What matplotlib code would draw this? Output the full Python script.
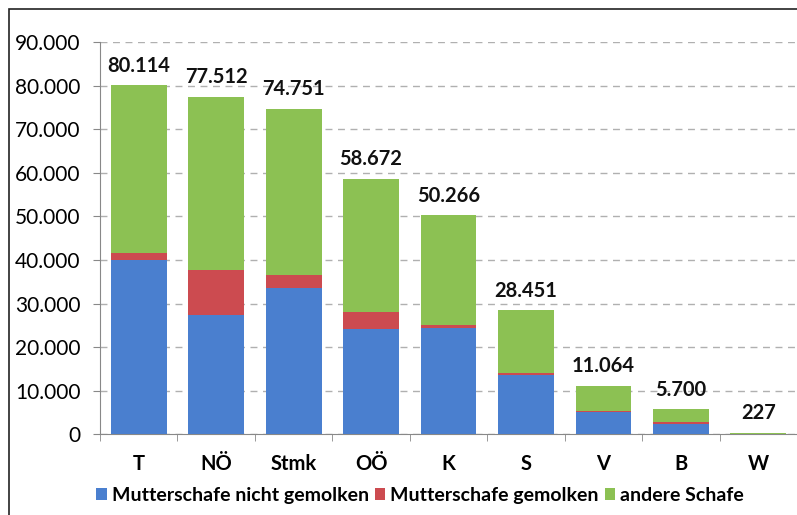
import matplotlib.pyplot as plt
from matplotlib.patches import Rectangle
from matplotlib.ticker import FuncFormatter
import numpy as np

plt.rcParams['font.family'] = ['Lato', 'DejaVu Sans']

regions = ['T', 'NÖ', 'Stmk', 'OÖ', 'K', 'S', 'V', 'B', 'W']
totals = [80114, 77512, 74751, 58672, 50266, 28451, 11064, 5700, 227]
nicht_gemolken = [39900, 27300, 33600, 24100, 24300, 13500, 5100, 2300, 110]
gemolken = [1700, 10500, 2900, 3900, 700, 500, 300, 500, 17]
andere = [t - a - b for t, a, b in zip(totals, nicht_gemolken, gemolken)]

labels = ['Mutterschafe nicht gemolken', 'Mutterschafe gemolken', 'andere Schafe']
colors = ['#4a7fcf', '#cc4b50', '#8cc153']

def dotfmt(v, pos=None):
    return '{:,.0f}'.format(v).replace(',', '.')

fig = plt.figure(figsize=(7.97, 5.15), dpi=100)
ax = fig.add_axes([0.1255, 0.157, 0.8745, 0.761])

x = np.arange(len(regions))
w = 0.72
b1 = ax.bar(x, nicht_gemolken, w, color=colors[0], label=labels[0], zorder=3)
b2 = ax.bar(x, gemolken, w, bottom=nicht_gemolken, color=colors[1], label=labels[1], zorder=3)
bottom2 = [a + b for a, b in zip(nicht_gemolken, gemolken)]
b3 = ax.bar(x, andere, w, bottom=bottom2, color=colors[2], label=labels[2], zorder=3)

for xi, t in zip(x, totals):
    ax.annotate(dotfmt(t), (xi, t), xytext=(0, 7), textcoords='offset points',
                ha='center', va='bottom', fontsize=14.5, fontweight='bold', color='#111111')

ax.set_xlim(-0.5, len(regions) - 0.5)
ax.set_ylim(0, 90000)
ax.set_yticks(np.arange(0, 90001, 10000))
ax.yaxis.set_major_formatter(FuncFormatter(dotfmt))
ax.yaxis.grid(True, linestyle=(0, (5, 4)), color='#b0b0b0', linewidth=1, zorder=0)

ax.set_xticks(x)
ax.set_xticklabels(regions, fontsize=14.5, fontweight='bold')
ax.set_xticks(np.arange(-0.5, len(regions), 1), minor=True)
ax.tick_params(axis='x', which='major', length=0, pad=14)
ax.tick_params(axis='x', which='minor', length=5, color='#888888', direction='out')
ax.tick_params(axis='y', length=5, color='#888888', labelsize=15, pad=9)

for s in ['top', 'right']:
    ax.spines[s].set_visible(False)
for s in ['left', 'bottom']:
    ax.spines[s].set_color('#888888')

fig.legend(handles=[b1, b2, b3], labels=labels, loc='center', bbox_to_anchor=(0.527, 0.038),
           ncol=3, frameon=False, handlelength=0.55, handleheight=0.55, handletextpad=0.25,
           columnspacing=0.3, prop={'size': 14, 'weight': 'bold'})

fig.add_artist(Rectangle((9 / 797, -0.1), 1.2, 1 - 9 / 515 + 0.1, transform=fig.transFigure,
                         fill=False, edgecolor='#222222', linewidth=1.2))

fig.savefig('out.png', dpi=100)
